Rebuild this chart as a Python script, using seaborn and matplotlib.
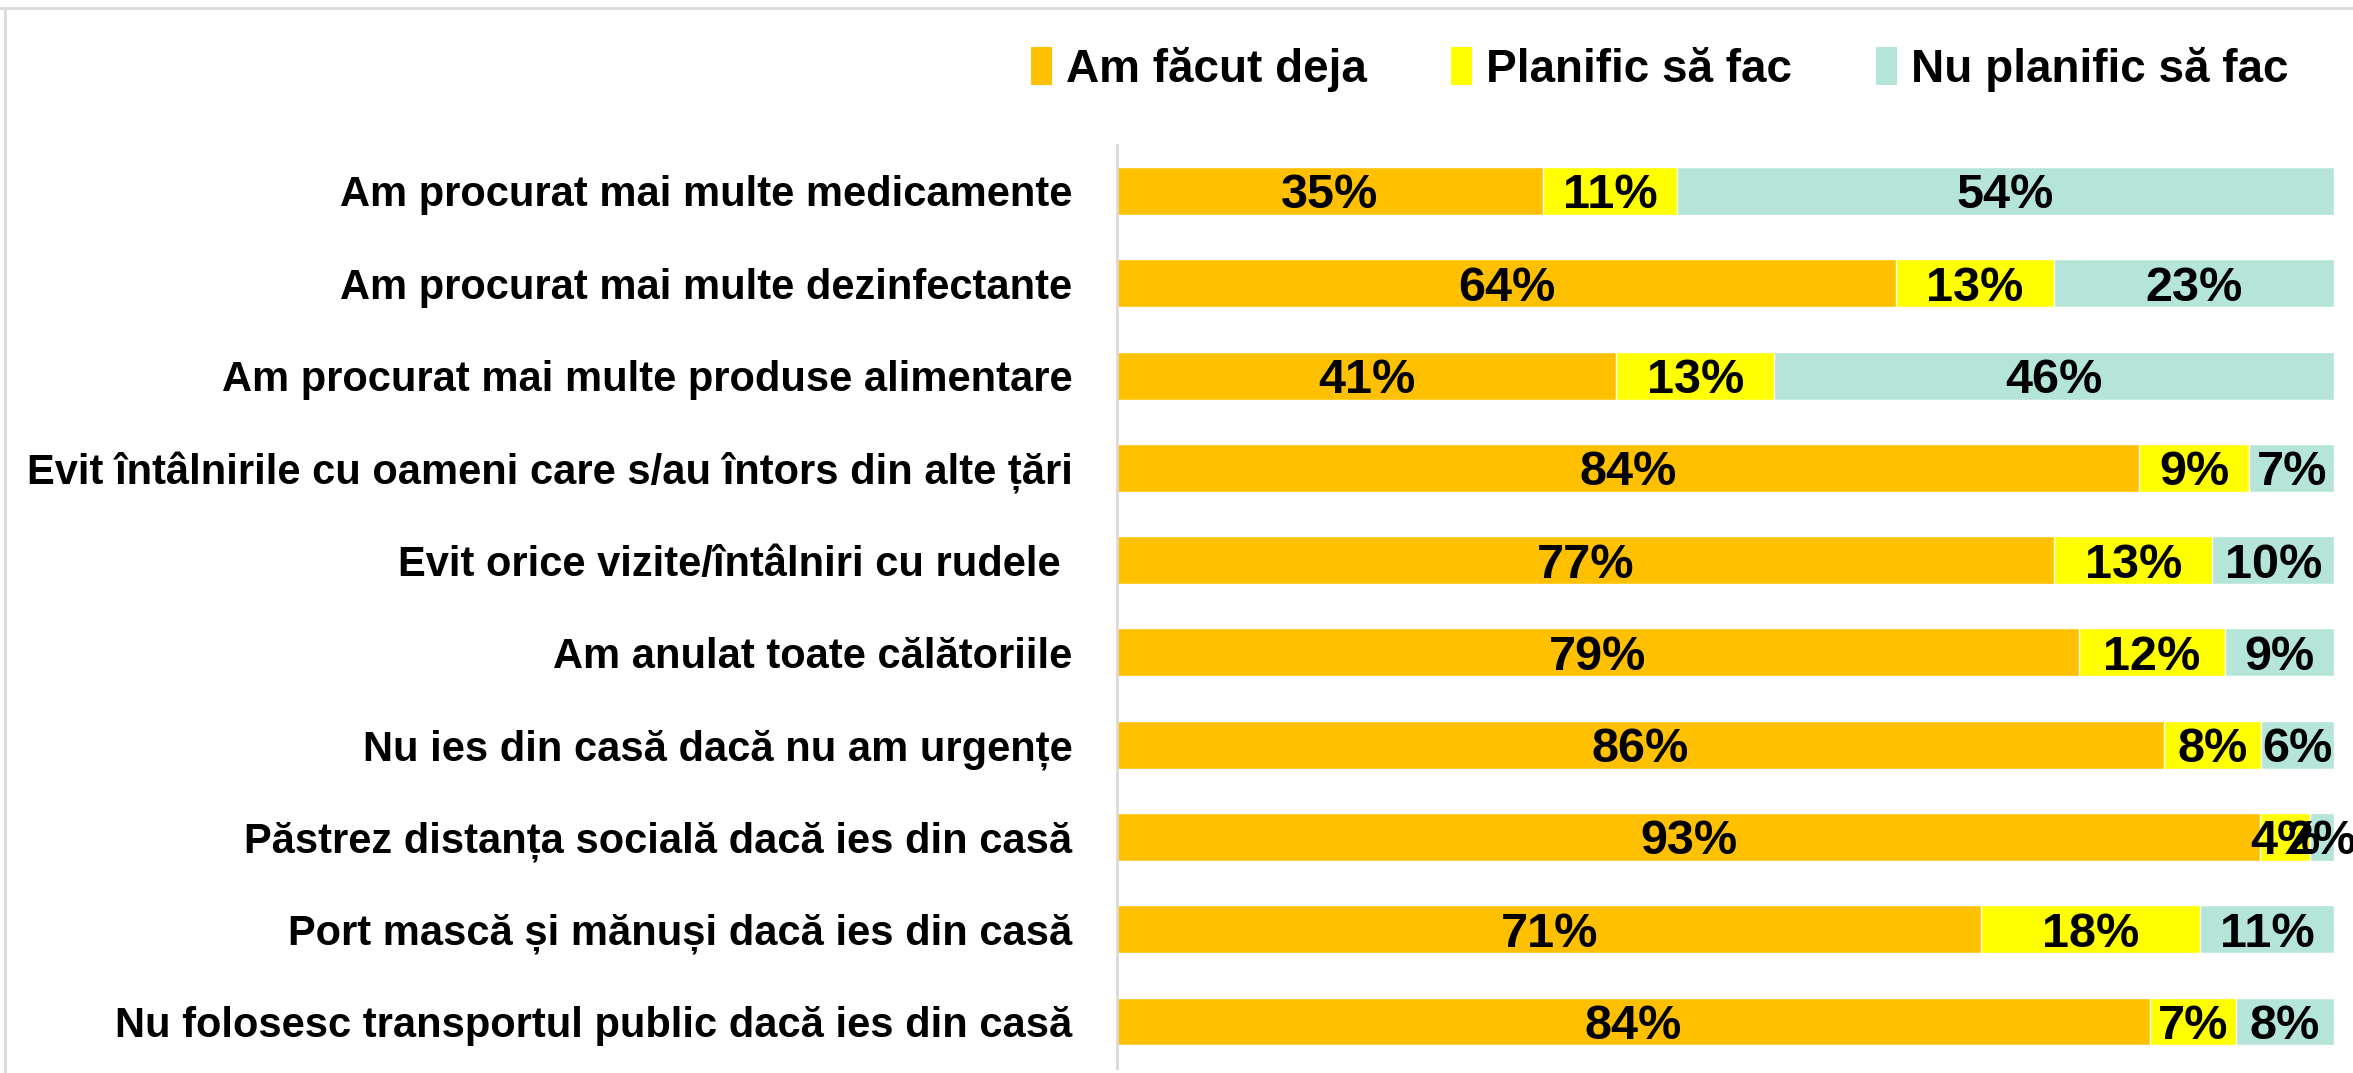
import numpy as np
import pandas as pd
import matplotlib
matplotlib.use('Agg')
import matplotlib.pyplot as plt
import seaborn as sns
from matplotlib.patches import Patch
from matplotlib.lines import Line2D

# Date
categorii = [
    'Am procurat mai multe medicamente',
    'Am procurat mai multe dezinfectante',
    'Am procurat mai multe produse alimentare',
    'Evit întâlnirile cu oameni care s/au întors din alte țări',
    'Evit orice vizite/întâlniri cu rudele ',
    'Am anulat toate călătoriile',
    'Nu ies din casă dacă nu am urgențe',
    'Păstrez distanța socială dacă ies din casă',
    'Port mască și mănuși dacă ies din casă',
    'Nu folosesc transportul public dacă ies din casă',
]
facut = [35, 64, 41, 84, 77, 79, 86, 93, 71, 84]
planific = [11, 13, 13, 9, 13, 12, 8, 4, 18, 7]
nu_planific = [54, 23, 46, 7, 10, 9, 6, 2, 11, 8]
serii = ['Am făcut deja', 'Planific să fac', 'Nu planific să fac']
culori = ['#FFC000', '#FFFF00', '#B4E5D8']

sns.set_style('white')
plt.rcParams['font.family'] = ['Liberation Sans Narrow', 'Liberation Sans', 'DejaVu Sans']
plt.rcParams['font.weight'] = 'bold'
plt.rcParams['text.color'] = 'black'
plt.rcParams['ytick.color'] = 'black'

df = pd.DataFrame({'cat': categorii, 'facut': facut,
                   'planific': planific, 'nu': nu_planific})
tot = df[['facut', 'planific', 'nu']].sum(axis=1)
# 100% stacked, ca in Excel
p1 = df['facut'] / tot * 100
p2 = df['planific'] / tot * 100
p3 = df['nu'] / tot * 100
c1 = p1
c2 = p1 + p2
c3 = p1 + p2 + p3

fig = plt.figure(figsize=(23.53, 10.73), dpi=100)
ax = fig.add_axes([0.4747, 0.005, 0.5173, 0.86])

# stacked prin suprapunere (de la total spre primul segment)
sns.barplot(x=c3.values, y=df['cat'], color=culori[2], width=0.52, ax=ax, saturation=1)
sns.barplot(x=c2.values, y=df['cat'], color=culori[1], width=0.52, ax=ax, saturation=1)
sns.barplot(x=c1.values, y=df['cat'], color=culori[0], width=0.52, ax=ax, saturation=1)

# etichete procente
for i in range(len(df)):
    segs = [(0, c1[i], df['facut'][i]), (c1[i], c2[i], df['planific'][i]),
            (c2[i], c3[i], df['nu'][i])]
    for a, b, v in segs:
        ax.text((a + b) / 2, i, f'{v}%', ha='center', va='center_baseline',
                fontsize=35, fontweight='bold', color='black')

ax.set_xlim(0, 100)
ax.set_ylim(len(df) - 0.5, -0.5)
ax.set_xlabel('')
ax.set_ylabel('')
ax.set_xticks([])
ax.tick_params(axis='y', length=0, pad=32, labelsize=30, labelcolor='black')
for lab in ax.get_yticklabels():
    lab.set_fontweight('bold')
for s in ['top', 'right', 'bottom']:
    ax.spines[s].set_visible(False)
ax.spines['left'].set_color('#D9D9D9')
ax.spines['left'].set_linewidth(2)

handles = [Patch(facecolor=c, edgecolor='none') for c in culori]
fig.legend(handles, serii, loc='center right', bbox_to_anchor=(0.99, 0.935),
           ncol=3, frameon=False, handlelength=0.45, handleheight=0.9,
           handletextpad=0.3, columnspacing=1.85, prop={'weight': 'bold', 'size': 33})

# chenar grafic
fig.add_artist(Line2D([0, 1], [0.993, 0.993], transform=fig.transFigure, color='#D9D9D9', lw=2))
fig.add_artist(Line2D([0.002, 0.002], [0, 0.993], transform=fig.transFigure, color='#D9D9D9', lw=2))

fig.savefig('out.png', dpi=100)
